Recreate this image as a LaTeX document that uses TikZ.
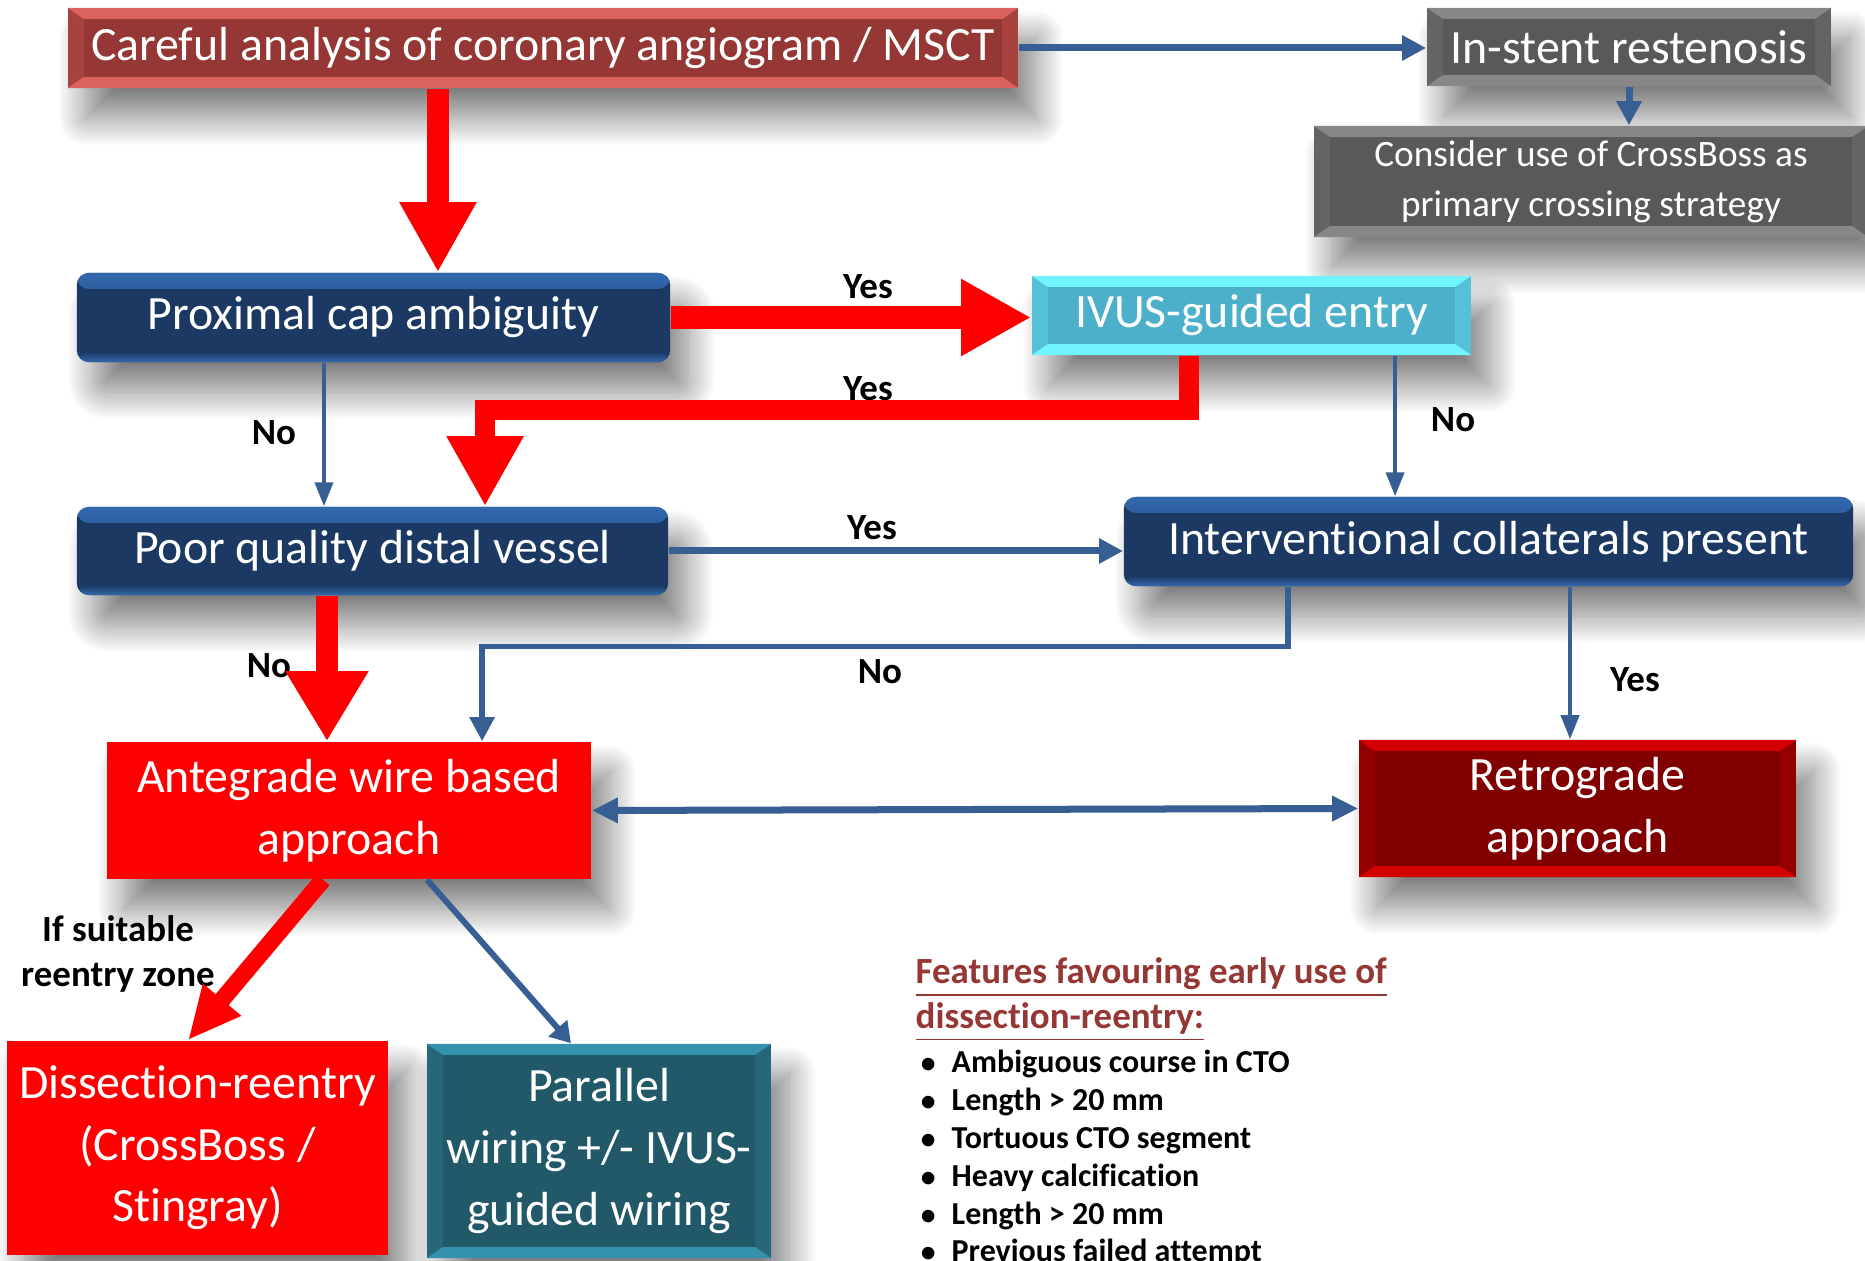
\documentclass[tikz,border=0pt]{standalone}
\usepackage{fontspec}
\setmainfont[Ligatures=NoCommon]{Carlito}
\usetikzlibrary{arrows.meta,shadows.blur}
\definecolor{topred}{HTML}{953735}
\definecolor{topredl}{HTML}{DB625E}
\definecolor{grbox}{HTML}{595959}
\definecolor{grboxl}{HTML}{878787}
\definecolor{navy}{HTML}{1B3962}
\definecolor{navyl}{HTML}{3268AD}
\definecolor{ivusc}{HTML}{4CB0CB}
\definecolor{ivusl}{HTML}{72F4FF}
\definecolor{retroc}{HTML}{800000}
\definecolor{retrol}{HTML}{D20000}
\definecolor{parc}{HTML}{215968}
\definecolor{parl}{HTML}{3592AC}
\definecolor{lineblue}{HTML}{385F94}
\begin{document}
\begin{tikzpicture}[x=0.01cm,y=-0.01cm,
  box/.style={rectangle,inner sep=0pt,align=center,text=white,
    font=\fontsize{13.6}{17.5}\selectfont,
    blur shadow={shadow xshift=0.18cm,shadow yshift=-0.3cm,shadow blur radius=0.28cm,shadow blur steps=30,shadow opacity=50}},
  bevel/.style 2 args={fill=#1,path picture={
    \coordinate (bsw) at (path picture bounding box.south west);
    \coordinate (bne) at (path picture bounding box.north east);
    \coordinate (isw) at ([shift={(0.16cm,0.11cm)}]bsw);
    \coordinate (ine) at ([shift={(-0.16cm,-0.11cm)}]bne);
    \fill[#1!75!#2] (bsw) rectangle (bne);
    \fill[#2] (bsw) -- (bne |- bsw) -- (ine |- isw) -- (isw) -- cycle
      (bsw |- bne) -- (bne) -- (ine) -- (isw |- ine) -- cycle;
    \fill[#1] (isw) rectangle (ine);}},
  sheen/.style 2 args={fill=#1,rounded corners=0.12cm,path picture={
    \shade[top color=#2,bottom color=#1] (path picture bounding box.north west) rectangle ([yshift=-0.16cm]path picture bounding box.north east);
    \shade[top color=#1,bottom color=#2] ([yshift=0.1cm]path picture bounding box.south west) rectangle (path picture bounding box.south east);}},
  lab/.style={font=\fontsize{10.5}{13}\selectfont\bfseries},
  redarrow/.style={draw=red,line width=0.22cm,-{Triangle[length=0.7cm,width=0.72cm]}},
  bluethick/.style={draw=lineblue,line width=0.07cm,-{Triangle[length=0.24cm,width=0.24cm]}},
  bluethin/.style={draw=lineblue,line width=0.04cm,-{Triangle[length=0.24cm,width=0.18cm]}}]
\useasboundingbox (0,0) rectangle (1865,1261);
\node[box,bevel={topred}{topredl},minimum width=9.5cm,minimum height=0.8cm] (careful) at (543,48) {Careful analysis of coronary angiogram / MSCT};
\node[box,bevel={grbox}{grboxl},minimum width=4.04cm,minimum height=0.78cm] (instent) at (1629,47) {In-stent restenosis};
\node[box,bevel={grbox}{grboxl},minimum width=5.54cm,minimum height=1.11cm,font=\fontsize{10.6}{14.2}\selectfont] (consider) at (1591,181.5) {Consider use of CrossBoss as\\primary crossing strategy};
\node[box,sheen={navy}{navyl},minimum width=5.93cm,minimum height=0.89cm] (proximal) at (373.5,317.5) {Proximal cap ambiguity};
\node[box,bevel={ivusc}{ivusl},minimum width=4.39cm,minimum height=0.79cm] (ivus) at (1251.5,315.5) {IVUS-guided entry};
\node[box,sheen={navy}{navyl},minimum width=5.91cm,minimum height=0.88cm] (poor) at (372.5,551) {Poor quality distal vessel};
\node[box,sheen={navy}{navyl},minimum width=7.29cm,minimum height=0.89cm] (inter) at (1488.5,541.5) {Interventional collaterals present};
\node[box,fill=red,minimum width=4.84cm,minimum height=1.37cm] (ante) at (349,810.5) {Antegrade wire based\\approach};
\node[box,bevel={retroc}{retrol},minimum width=4.37cm,minimum height=1.37cm] (retro) at (1577.5,808.5) {Retrograde\\approach};
\node[box,fill=red,minimum width=3.81cm,minimum height=2.14cm] (dissect) at (197.5,1148) {Dissection-reentry\\(CrossBoss /\\Stingray)};
\node[box,bevel={parc}{parl},minimum width=3.44cm,minimum height=2.14cm] (parallel) at (599,1151) {Parallel\\wiring +/- IVUS-\\guided wiring};
\node[lab] (yes1) at (868,287) {Yes};
\node[lab] (yes2) at (868,389) {Yes};
\node[lab] (no1) at (274,433) {No};
\node[lab] (no2) at (1453,420) {No};
\node[lab] (yes3) at (872,528) {Yes};
\node[lab] (no3) at (269,666) {No};
\node[lab] (no4) at (880,672) {No};
\node[lab] (yes4) at (1635,680) {Yes};
\node[lab,align=center] (suitable) at (118,954) {If suitable\\reentry zone};
\node[lab,align=left,anchor=base west,inner sep=0pt,text=topred,font=\fontsize{10.5}{12.8}\selectfont\bfseries] (features) at (915,1029) {\underline{Features favouring early use of}\\\underline{dissection-reentry:}};
\node[align=left,anchor=base west,inner sep=0pt,font=\fontsize{9.1}{10.8}\selectfont\bfseries] (list) at (920,1262) {\makebox[0.31cm][l]{$\bullet$}Ambiguous course in CTO\\\makebox[0.31cm][l]{$\bullet$}Length > 20 mm\\\makebox[0.31cm][l]{$\bullet$}Tortuous CTO segment\\\makebox[0.31cm][l]{$\bullet$}Heavy calcification\\\makebox[0.31cm][l]{$\bullet$}Length > 20 mm\\\makebox[0.31cm][l]{$\bullet$}Previous failed attempt};
\draw[redarrow] ([xshift=-1.05cm]careful.south) -- ([xshift=-1.05cm]careful.south |- proximal.north);
\draw[bluethick] (careful.east) -- (careful.east -| instent.west);
\draw[bluethick] (instent.south) -- (instent.south |- consider.north);
\draw[redarrow] (proximal.east) -- (proximal.east -| ivus.west);
\draw[bluethin] ([xshift=-0.495cm]proximal.south) -- ([xshift=-0.495cm]proximal.south |- poor.north);
\draw[redarrow,line width=0.2cm] ([xshift=-0.625cm]ivus.south) -- ++(0,54) -| ([xshift=1.125cm]poor.north);
\draw[bluethin] ([xshift=1.435cm]ivus.south) -- ([xshift=1.435cm]ivus.south |- inter.north);
\draw[bluethick] (poor.east) -- (poor.east -| inter.west);
\draw[redarrow,-{Triangle[length=0.7cm,width=0.78cm]}] ([xshift=-0.455cm]poor.south) -- ([xshift=-0.455cm]poor.south |- ante.north);
\draw[bluethick,line width=0.055cm] ([xshift=-2.005cm]inter.south) -- ++(0,60) -| ([xshift=1.33cm]ante.north);
\draw[bluethin] ([xshift=0.815cm]inter.south) -- ([xshift=0.815cm]inter.south |- retro.north);
\draw[bluethick,{Triangle[length=0.26cm,width=0.24cm]}-{Triangle[length=0.26cm,width=0.24cm]}] (ante.east) -- (retro.west);
\draw[redarrow,line width=0.17cm,-{Triangle[length=0.53cm,width=0.46cm]}] ([xshift=-0.26cm]ante.south) -- ([xshift=-0.095cm]dissect.north);
\draw[bluethin,line width=0.06cm,-{Triangle[length=0.2cm,width=0.24cm]}] ([xshift=0.78cm]ante.south) -- ([xshift=-0.28cm]parallel.north);
\end{tikzpicture}
\end{document}
